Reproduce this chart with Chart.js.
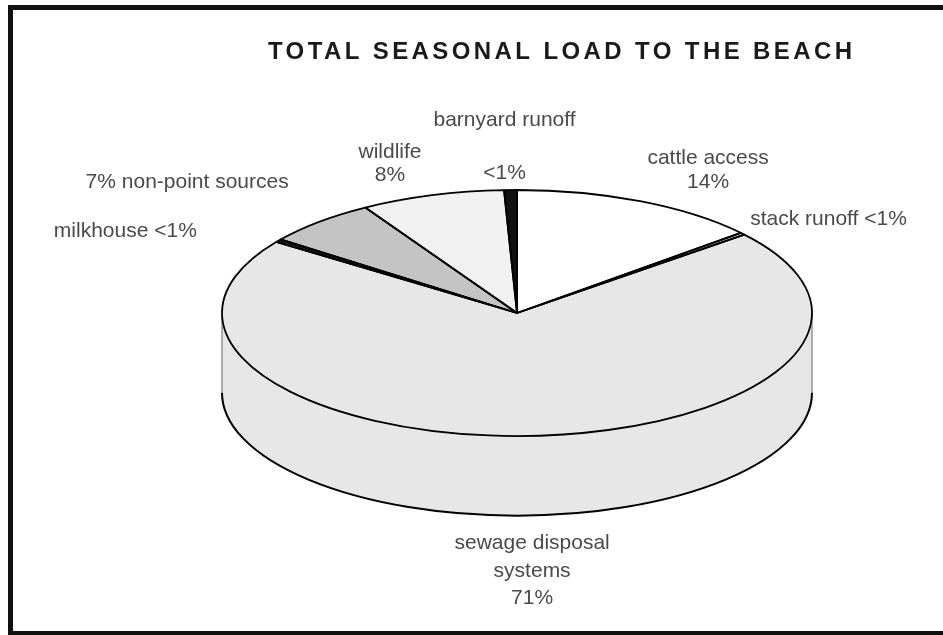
<!DOCTYPE html>
<html>
<head>
<meta charset="utf-8">
<script src="https://cdn.jsdelivr.net/npm/chart.js@4.4.0/dist/chart.umd.min.js"></script>
<style>
  html, body { margin: 0; padding: 0; background: #fff; }
  #wrap { position: relative; width: 943px; height: 635px; overflow: hidden; }
  #frame { position: absolute; left: 8px; top: 5px; width: 960px; height: 621px; border: 5px solid #111; pointer-events: none; }
  canvas { position: absolute; left: 0; top: 0; }
</style>
</head>
<body>
<div id="wrap">
  <canvas id="chart" width="943" height="635"></canvas>
  <div id="frame"></div>
</div>
<script>
// data, clockwise from the top of the pie
const titleText = 'TOTAL SEASONAL LOAD TO THE BEACH';
const sources = ['cattle access', 'stack runoff', 'sewage disposal systems', 'milkhouse', 'non-point sources', 'wildlife', 'barnyard runoff'];
const shares = [13.7, 0.3, 70.8, 0.4, 6.2, 7.9, 0.7];
const labelLines = [
  ['cattle access', '14%'],
  ['stack runoff <1%'],
  ['sewage disposal', 'systems', '71%'],
  ['milkhouse <1%'],
  ['7% non-point sources'],
  ['wildlife', '8%'],
  ['barnyard runoff', '<1%']
];
const fills = ['#ffffff', '#e4e4e4', '#e7e7e7', '#1c1c1c', '#c4c4c4', '#f1f1f1', '#111111'];

// look of the 3d pie
const TILT = 0.417;   // ry / rx
const DEPTH = 0.27;   // side height / rx
const FONT = '"Liberation Sans", Arial, Helvetica, sans-serif';

// where each label sits, relative to the rim point in the middle of its slice
const labelPlace = [
  { dx: 68, dy: -31, lh: 24 },
  { dx: 86, dy: -14, lh: 24 },
  { dx: 4, dy: 135, lh: 27.5 },
  { dx: -153, dy: -9, lh: 24 },
  { dx: -132, dy: -40, lh: 24 },
  { dx: -42, dy: -31, lh: 23 },
  { dx: -6, dy: -43, lh: 53 }
];

const pie3d = {
  id: 'pie3d',
  beforeDatasetsDraw(chart) {
    const arcs = chart.getDatasetMeta(0).data;
    const { x, y, outerRadius: r } = arcs[0];
    const ry = r * TILT, depth = r * DEPTH;
    const ctx = chart.ctx;

    // front wall, one piece per slice that reaches the front half
    arcs.forEach((arc, i) => {
      [-2 * Math.PI, 0, 2 * Math.PI].forEach((shift) => {
        const a0 = Math.max(arc.startAngle + shift, 0);
        const a1 = Math.min(arc.endAngle + shift, Math.PI);
        if (a1 <= a0) return;
        ctx.beginPath();
        ctx.ellipse(x, y, r, ry, 0, a0, a1);
        ctx.ellipse(x, y + depth, r, ry, 0, a1, a0, true);
        ctx.closePath();
        ctx.fillStyle = fills[i];
        ctx.fill();
      });
    });

    ctx.save();
    ctx.strokeStyle = '#666';
    ctx.lineWidth = 1;
    ctx.beginPath();
    ctx.moveTo(x + r, y);
    ctx.lineTo(x + r, y + depth);
    ctx.moveTo(x - r, y);
    ctx.lineTo(x - r, y + depth);
    ctx.stroke();
    ctx.strokeStyle = '#000';
    ctx.lineWidth = 2;
    ctx.beginPath();
    ctx.ellipse(x, y + depth, r, ry, 0, 0, Math.PI);
    ctx.stroke();
    ctx.restore();

    // squash the top of the pie
    ctx.save();
    ctx.translate(x, y);
    ctx.scale(1, TILT);
    ctx.translate(-x, -y);
  },
  afterDatasetsDraw(chart) {
    const ctx = chart.ctx;
    ctx.restore();
    const arcs = chart.getDatasetMeta(0).data;
    const { x, y, outerRadius: r } = arcs[0];
    const ry = r * TILT;
    ctx.save();
    ctx.strokeStyle = '#000';
    ctx.lineWidth = 1.8;
    ctx.lineJoin = 'round';
    arcs.forEach((arc) => {
      ctx.beginPath();
      ctx.moveTo(x, y);
      ctx.ellipse(x, y, r, ry, 0, arc.startAngle, arc.endAngle);
      ctx.closePath();
      ctx.stroke();
    });
    ctx.restore();
  },
  afterDraw(chart) {
    const ctx = chart.ctx;
    const arcs = chart.getDatasetMeta(0).data;
    const { x, y, outerRadius: r } = arcs[0];
    const ry = r * TILT;
    ctx.save();

    // title
    ctx.font = 'bold 24px ' + FONT;
    ctx.letterSpacing = '3.4px';
    ctx.fillStyle = '#1a1a1a';
    ctx.textBaseline = 'middle';
    ctx.textAlign = 'left';
    const tw = ctx.measureText(titleText).width - 3.4;
    ctx.fillText(titleText, 560 - tw / 2, 52);

    // slice labels
    ctx.letterSpacing = '0px';
    ctx.font = '21px ' + FONT;
    ctx.fillStyle = '#4a4a4a';
    ctx.textAlign = 'center';
    arcs.forEach((arc, i) => {
      const mid = (arc.startAngle + arc.endAngle) / 2;
      const p = labelPlace[i];
      const cx = x + r * Math.cos(mid) + p.dx;
      const cy = y + ry * Math.sin(mid) + p.dy;
      const lines = labelLines[i];
      lines.forEach((t, k) => {
        ctx.fillText(t, cx, cy + (k - (lines.length - 1) / 2) * p.lh);
      });
    });
    ctx.restore();
  }
};

new Chart(document.getElementById('chart'), {
  type: 'pie',
  data: {
    labels: sources,
    datasets: [{
      data: shares,
      backgroundColor: fills,
      borderWidth: 0,
      hoverOffset: 0
    }]
  },
  options: {
    responsive: false,
    animation: false,
    events: [],
    layout: { padding: { left: 100, right: 9, top: 18, bottom: 27 } },
    plugins: {
      legend: { display: false },
      tooltip: { enabled: false }
    }
  },
  plugins: [pie3d]
});
</script>
</body>
</html>
